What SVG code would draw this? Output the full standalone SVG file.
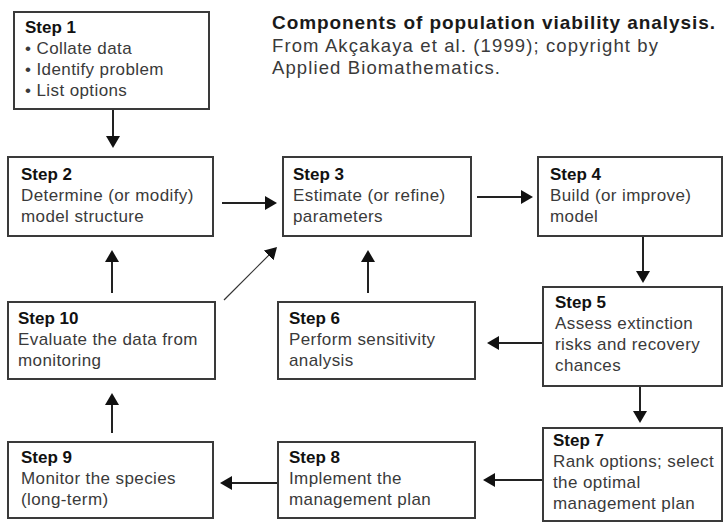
<svg xmlns="http://www.w3.org/2000/svg" width="724" height="523" viewBox="0 0 724 523">
<style>
.box{fill:#fff;stroke:#3a3a3a;stroke-width:2}
.t{font-family:"Liberation Sans",Arial,sans-serif;font-size:17px;fill:#3a3a3a;letter-spacing:0.4px}
.h{font-family:"Liberation Sans",Arial,sans-serif;font-size:17px;font-weight:bold;fill:#111}
.title{font-family:"Liberation Sans",Arial,sans-serif;font-size:19px;font-weight:bold;fill:#1a1a1a}
.sub{font-family:"Liberation Sans",Arial,sans-serif;font-size:18.5px;fill:#3a3a3a}
.c{fill:none;stroke:#222;stroke-width:2;marker-end:url(#ah)}
.thin{fill:none;stroke:#333;stroke-width:1.2;marker-end:url(#ah)}
</style>
<defs>
<marker id="ah" viewBox="0 0 12 14" refX="6" refY="7" markerWidth="12" markerHeight="14" markerUnits="userSpaceOnUse" orient="auto">
<path d="M0,0 L12,7 L0,14 z" fill="#111"/>
</marker>
</defs>
<rect width="724" height="523" fill="#fff"/>
<g id="title">
<text class="title" x="272" y="29" textLength="443" lengthAdjust="spacing">Components of population viability analysis.</text>
<text class="sub" x="272" y="52" textLength="386" lengthAdjust="spacing">From Akçakaya et al. (1999); copyright by</text>
<text class="sub" x="272" y="74" textLength="228" lengthAdjust="spacing">Applied Biomathematics.</text>
</g>
<g id="connectors">
<path class="c" d="M113,109 V142"/>
<path class="c" d="M222,203 H271"/>
<path class="c" d="M477,197 H527"/>
<path class="c" d="M643,237 V277"/>
<path class="c" d="M543,343 H493"/>
<path class="c" d="M368,293 V256"/>
<path class="c" d="M112,293 V256"/>
<path class="thin" d="M224,300 L272.8,251.2"/>
<path class="c" d="M640,386 V417"/>
<path class="c" d="M112,433 V399"/>
<path class="c" d="M543,480 H489"/>
<path class="c" d="M278,483 H226"/>
</g>
<g id="step1">
<rect class="box" x="14" y="12" width="195" height="97"/>
<text class="h" x="25" y="33">Step 1</text>
<text class="t" x="25" y="54">• Collate data</text>
<text class="t" x="25" y="75">• Identify problem</text>
<text class="t" x="25" y="96">• List options</text>
</g>
<g id="step2">
<rect class="box" x="8" y="157" width="205" height="79"/>
<text class="h" x="21" y="180">Step 2</text>
<text class="t" x="21" y="201">Determine (or modify)</text>
<text class="t" x="21" y="222">model structure</text>
</g>
<g id="step3">
<rect class="box" x="283" y="157" width="188" height="79"/>
<text class="h" x="293" y="180">Step 3</text>
<text class="t" x="293" y="201">Estimate (or refine)</text>
<text class="t" x="293" y="222">parameters</text>
</g>
<g id="step4">
<rect class="box" x="538" y="157" width="184" height="79"/>
<text class="h" x="550" y="180">Step 4</text>
<text class="t" x="550" y="201">Build (or improve)</text>
<text class="t" x="550" y="222">model</text>
</g>
<g id="step5">
<rect class="box" x="543" y="287" width="179" height="99"/>
<text class="h" x="555" y="308">Step 5</text>
<text class="t" x="555" y="329">Assess extinction</text>
<text class="t" x="555" y="350">risks and recovery</text>
<text class="t" x="555" y="371">chances</text>
</g>
<g id="step6">
<rect class="box" x="278" y="302" width="197" height="77"/>
<text class="h" x="289" y="324">Step 6</text>
<text class="t" x="289" y="345">Perform sensitivity</text>
<text class="t" x="289" y="366">analysis</text>
</g>
<g id="step10">
<rect class="box" x="8" y="302" width="207" height="77"/>
<text class="h" x="18" y="324">Step 10</text>
<text class="t" x="18" y="345">Evaluate the data from</text>
<text class="t" x="18" y="366">monitoring</text>
</g>
<g id="step7">
<rect class="box" x="543" y="428" width="179" height="93"/>
<text class="h" x="553" y="446">Step 7</text>
<text class="t" x="553" y="467">Rank options; select</text>
<text class="t" x="553" y="488">the optimal</text>
<text class="t" x="553" y="509">management plan</text>
</g>
<g id="step8">
<rect class="box" x="278" y="442" width="197" height="76"/>
<text class="h" x="289" y="463">Step 8</text>
<text class="t" x="289" y="484">Implement the</text>
<text class="t" x="289" y="505">management plan</text>
</g>
<g id="step9">
<rect class="box" x="8" y="442" width="205" height="76"/>
<text class="h" x="21" y="463">Step 9</text>
<text class="t" x="21" y="484">Monitor the species</text>
<text class="t" x="21" y="505">(long-term)</text>
</g>
</svg>
